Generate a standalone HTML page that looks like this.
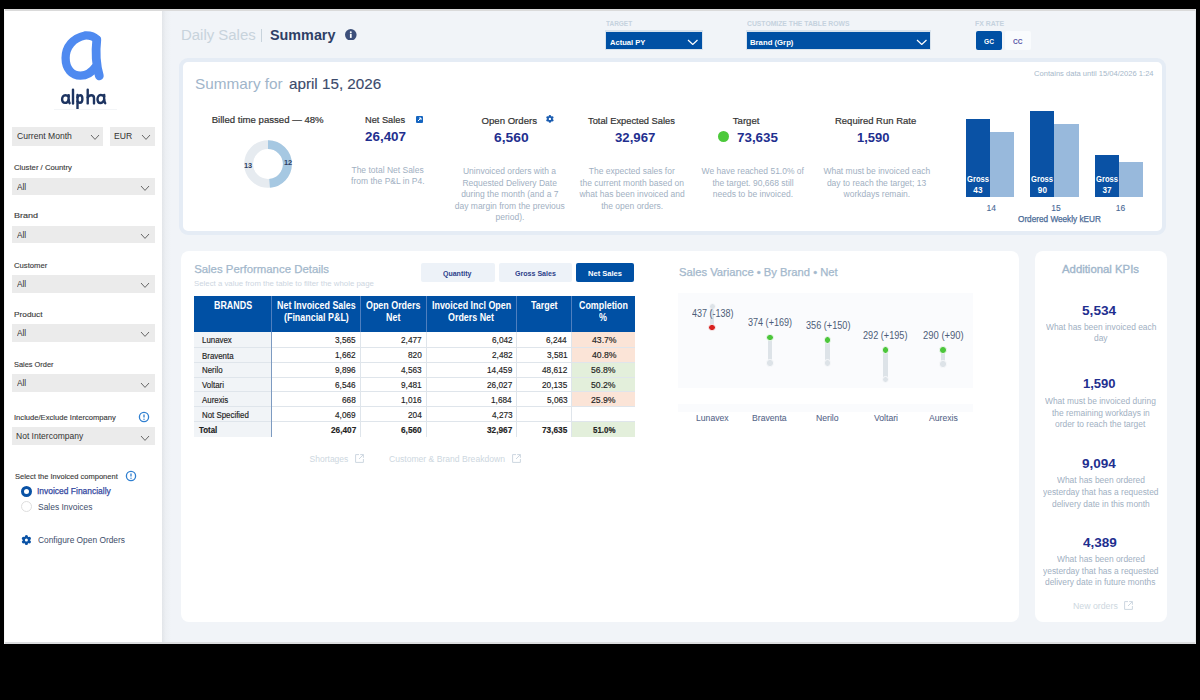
<!DOCTYPE html>
<html><head><meta charset="utf-8">
<style>
*{margin:0;padding:0;box-sizing:border-box}
html,body{width:1200px;height:700px;overflow:hidden;background:#000}
body{position:relative;font-family:"Liberation Sans",sans-serif}
.a{position:absolute;white-space:nowrap}
.t{transform-origin:0 0}
</style></head><body>
<div class="a" style="left:4.00px;top:9.00px;width:1192.00px;height:635.00px;background:#f1f4f8;"></div>
<div class="a" style="left:4.00px;top:9.00px;width:158.00px;height:635.00px;background:#ffffff;"></div>
<div class="a" style="left:162px;top:9px;width:9px;height:635px;background:linear-gradient(to right,#e2e5e9,#eceff3 40%,#f1f4f8)"></div>
<div class="a" style="left:4.00px;top:642.00px;width:1192.00px;height:2.00px;background:#dcdddf;"></div>
<div class="a" style="left:4.00px;top:9.00px;width:1192.00px;height:1.50px;background:#dadada;"></div>
<div class="a" style="left:1195.00px;top:9.00px;width:1.00px;height:635.00px;background:#e4e6e8;"></div>
<div class="a" style="left:4.00px;top:9.00px;width:1.00px;height:635.00px;background:#f6f6f6;"></div>
<svg class="a" style="left:0;top:0" width="170" height="120" viewBox="0 0 170 120">
 <path d="M96.8 39.5 C94 36.5 89.5 35.3 85 35.5 C73 38 65.6 47 65.6 58 C65.6 69 72 75.6 80.5 75.6 C87 75.6 92 72 95.5 67" fill="none" stroke="#4f8af0" stroke-width="8.3" stroke-linecap="round"/>
 <path d="M96.8 39.5 C95.6 50 95.5 63 99.3 75.8" fill="none" stroke="#4f8af0" stroke-width="8.8" stroke-linecap="round"/>
</svg>
<svg class="a" style="left:0;top:0" width="170" height="120" viewBox="0 0 170 120"><g fill="none" stroke="#1d3461" stroke-width="2.4" stroke-linecap="round" stroke-linejoin="round">
 <path d="M68.6 96.5 C67.8 95.5 66.6 95.2 65.3 95.2 C63.3 95.2 62.1 97.2 62.1 99.3 C62.1 101.4 63.3 102.9 65 102.9 C66.8 102.9 68.1 101.5 68.6 99.8"/>
 <path d="M68.7 95.2 C68.5 98 68.6 101.5 69.6 103.2"/>
 <path d="M73 89.8 V103.5"/>
 <path d="M77.5 95 V108.2"/>
 <path d="M77.5 97.3 C78.2 95.8 79.3 95.2 80.3 95.2 C81.8 95.2 82.4 97 82.4 98.9 C82.4 101 81.6 102.8 79.9 102.8 C78.8 102.8 77.9 102.2 77.5 101.3"/>
 <path d="M87.7 89.8 V103.4"/>
 <path d="M87.7 97.5 C88.4 95.8 89.8 95.2 91.3 95.2 C93.2 95.2 94 96.4 94 98 V103.4"/>
 <path d="M104.1 96.5 C103.3 95.4 102 95 100.7 95 C98.7 95 97.5 97.1 97.5 99.2 C97.5 101.4 98.7 103 100.4 103 C102.2 103 103.5 101.5 104.1 99.8"/>
 <path d="M104.2 95 C104 98 104.1 101.5 105.2 103.2"/>
</g></svg>
<div class="a" style="left:53.50px;top:109.30px;width:63.80px;height:1.00px;background:#f3f5f7;"></div>
<div class="a" style="left:12.20px;top:126.70px;width:91.10px;height:18.90px;background:#ebebeb;"></div>
<div class="a t" style="left:16.67px;top:130.38px;font-size:9px;line-height:13px;color:#333;font-weight:normal;transform:scaleX(0.9536);">Current Month</div>
<svg class="a" style="left:89.60px;top:133.80px" width="10.00" height="6.40"><path d="M1 1 L5.00 5.40 L9.00 1" fill="none" stroke="#666" stroke-width="1"/></svg>
<div class="a" style="left:110.00px;top:126.70px;width:45.20px;height:18.90px;background:#ebebeb;"></div>
<div class="a t" style="left:114.31px;top:130.38px;font-size:9px;line-height:13px;color:#333;font-weight:normal;transform:scaleX(0.9540);">EUR</div>
<svg class="a" style="left:140.80px;top:133.80px" width="10.00" height="6.40"><path d="M1 1 L5.00 5.40 L9.00 1" fill="none" stroke="#666" stroke-width="1"/></svg>
<div class="a t" style="left:14.01px;top:162.81px;font-size:7.2px;line-height:10px;color:#3a3a3a;font-weight:normal;transform:scaleX(1.0738);-webkit-text-stroke:0.12px #3a3a3a;">Cluster / Country</div>
<div class="a" style="left:12.20px;top:177.70px;width:143.00px;height:17.80px;background:#ebebeb;"></div>
<div class="a t" style="left:17.10px;top:180.65px;font-size:8.8px;line-height:12px;color:#333;font-weight:normal;transform:scaleX(0.9416);">All</div>
<svg class="a" style="left:140.20px;top:185.10px" width="10.00" height="6.40"><path d="M1 1 L5.00 5.40 L9.00 1" fill="none" stroke="#666" stroke-width="1"/></svg>
<div class="a t" style="left:13.68px;top:210.61px;font-size:7.2px;line-height:10px;color:#3a3a3a;font-weight:normal;transform:scaleX(1.2566);-webkit-text-stroke:0.12px #3a3a3a;">Brand</div>
<div class="a" style="left:12.20px;top:225.60px;width:143.00px;height:17.80px;background:#ebebeb;"></div>
<div class="a t" style="left:17.10px;top:228.55px;font-size:8.8px;line-height:12px;color:#333;font-weight:normal;transform:scaleX(0.9416);">All</div>
<svg class="a" style="left:140.20px;top:233.00px" width="10.00" height="6.40"><path d="M1 1 L5.00 5.40 L9.00 1" fill="none" stroke="#666" stroke-width="1"/></svg>
<div class="a t" style="left:14.02px;top:260.51px;font-size:7.2px;line-height:10px;color:#3a3a3a;font-weight:normal;transform:scaleX(1.0669);-webkit-text-stroke:0.12px #3a3a3a;">Customer</div>
<div class="a" style="left:12.20px;top:274.90px;width:143.00px;height:17.80px;background:#ebebeb;"></div>
<div class="a t" style="left:17.10px;top:277.85px;font-size:8.8px;line-height:12px;color:#333;font-weight:normal;transform:scaleX(0.9416);">All</div>
<svg class="a" style="left:140.20px;top:282.30px" width="10.00" height="6.40"><path d="M1 1 L5.00 5.40 L9.00 1" fill="none" stroke="#666" stroke-width="1"/></svg>
<div class="a t" style="left:13.74px;top:309.61px;font-size:7.2px;line-height:10px;color:#3a3a3a;font-weight:normal;transform:scaleX(1.1533);-webkit-text-stroke:0.12px #3a3a3a;">Product</div>
<div class="a" style="left:12.20px;top:323.90px;width:143.00px;height:17.80px;background:#ebebeb;"></div>
<div class="a t" style="left:17.10px;top:326.85px;font-size:8.8px;line-height:12px;color:#333;font-weight:normal;transform:scaleX(0.9416);">All</div>
<svg class="a" style="left:140.20px;top:331.30px" width="10.00" height="6.40"><path d="M1 1 L5.00 5.40 L9.00 1" fill="none" stroke="#666" stroke-width="1"/></svg>
<div class="a t" style="left:14.03px;top:359.81px;font-size:7.2px;line-height:10px;color:#3a3a3a;font-weight:normal;transform:scaleX(1.0305);-webkit-text-stroke:0.12px #3a3a3a;">Sales Order</div>
<div class="a" style="left:12.20px;top:374.30px;width:143.00px;height:17.80px;background:#ebebeb;"></div>
<div class="a t" style="left:17.10px;top:377.25px;font-size:8.8px;line-height:12px;color:#333;font-weight:normal;transform:scaleX(0.9416);">All</div>
<svg class="a" style="left:140.20px;top:381.70px" width="10.00" height="6.40"><path d="M1 1 L5.00 5.40 L9.00 1" fill="none" stroke="#666" stroke-width="1"/></svg>
<div class="a t" style="left:13.71px;top:412.66px;font-size:7.2px;line-height:10px;color:#3a3a3a;font-weight:normal;transform:scaleX(1.0576);-webkit-text-stroke:0.12px #3a3a3a;">Include/Exclude Intercompany</div>
<div class="a" style="left:12.20px;top:427.25px;width:143.00px;height:17.80px;background:#ebebeb;"></div>
<div class="a t" style="left:16.42px;top:430.20px;font-size:8.8px;line-height:12px;color:#333;font-weight:normal;transform:scaleX(0.9676);">Not Intercompany</div>
<svg class="a" style="left:140.20px;top:434.65px" width="10.00" height="6.40"><path d="M1 1 L5.00 5.40 L9.00 1" fill="none" stroke="#666" stroke-width="1"/></svg>
<svg class="a" style="left:137.60px;top:411.10px" width="12" height="12" viewBox="0 0 12 12"><circle cx="6" cy="6" r="4.6" fill="none" stroke="#2f7fd0" stroke-width="1.3"/><path d="M6 3.4 V6.6" stroke="#2f7fd0" stroke-width="1.3"/><circle cx="6" cy="8.3" r="0.7" fill="#2f7fd0"/></svg>
<div class="a t" style="left:15.12px;top:471.91px;font-size:7.2px;line-height:10px;color:#3a3a3a;font-weight:normal;transform:scaleX(1.0452);-webkit-text-stroke:0.12px #3a3a3a;">Select the Invoiced component</div>
<svg class="a" style="left:124.80px;top:470.20px" width="12" height="12" viewBox="0 0 12 12"><circle cx="6" cy="6" r="4.6" fill="none" stroke="#2f7fd0" stroke-width="1.3"/><path d="M6 3.4 V6.6" stroke="#2f7fd0" stroke-width="1.3"/><circle cx="6" cy="8.3" r="0.7" fill="#2f7fd0"/></svg>
<div class="a" style="left:21.2px;top:485.6px;width:11px;height:11px;border-radius:50%;border:3.2px solid #0a52a5;background:#fff"></div>
<div class="a t" style="left:37.44px;top:485.25px;font-size:8.8px;line-height:12px;color:#3347a0;font-weight:normal;transform:scaleX(0.9614);-webkit-text-stroke:0.25px #3347a0;">Invoiced Financially</div>
<div class="a" style="left:21.2px;top:500.8px;width:11px;height:11px;border-radius:50%;border:1px solid #dedede;background:#fff"></div>
<div class="a t" style="left:37.78px;top:500.65px;font-size:8.8px;line-height:12px;color:#3d4d6a;font-weight:normal;transform:scaleX(0.9595);">Sales Invoices</div>
<svg class="a" style="left:0;top:0" width="1200" height="700"><circle cx="26.4" cy="540.1" r="3.50" fill="#0a52a5"/><circle cx="26.40" cy="536.70" r="1.60" fill="#0a52a5"/><circle cx="29.34" cy="538.40" r="1.60" fill="#0a52a5"/><circle cx="29.34" cy="541.80" r="1.60" fill="#0a52a5"/><circle cx="26.40" cy="543.50" r="1.60" fill="#0a52a5"/><circle cx="23.46" cy="541.80" r="1.60" fill="#0a52a5"/><circle cx="23.46" cy="538.40" r="1.60" fill="#0a52a5"/><circle cx="26.4" cy="540.1" r="1.50" fill="#fff"/></svg>
<div class="a t" style="left:38.38px;top:534.45px;font-size:8.5px;line-height:12px;color:#3d4d6a;font-weight:normal;transform:scaleX(0.9846);">Configure Open Orders</div>
<div class="a t" style="left:180.90px;top:24.85px;font-size:14px;line-height:20px;color:#c8d3dc;font-weight:normal;transform:scaleX(1.0670);">Daily Sales</div>
<div class="a" style="left:261.00px;top:28.70px;width:1.20px;height:13.50px;background:#c8d3dc;"></div>
<div class="a t" style="left:269.57px;top:24.85px;font-size:14px;line-height:20px;color:#2e3f66;font-weight:bold;transform:scaleX(1.0256);">Summary</div>
<svg class="a" style="left:345px;top:28.9px" width="11.6" height="11.6" viewBox="0 0 12 12"><circle cx="6" cy="6" r="6" fill="#3c4f7a"/><rect x="5.1" y="5" width="1.8" height="4.2" fill="#fff"/><circle cx="6" cy="3.3" r="1" fill="#fff"/></svg>
<div class="a t" style="left:606.44px;top:18.67px;font-size:7.3px;line-height:10px;color:#c5d2de;font-weight:bold;transform:scaleX(0.8860);">TARGET</div>
<div class="a" style="left:604.80px;top:30.00px;width:98.20px;height:20.20px;background:#d8e2ec;"></div>
<div class="a" style="left:605.80px;top:31.60px;width:96.20px;height:17.90px;background:#0050a4;"></div>
<div class="a t" style="left:609.77px;top:36.63px;font-size:8px;line-height:11px;color:#ffffff;font-weight:bold;transform:scaleX(0.9470);">Actual PY</div>
<svg class="a" style="left:686.95px;top:38.55px" width="11.50" height="6.50"><path d="M1 1 L5.75 5.50 L10.50 1" fill="none" stroke="#ffffff" stroke-width="1.2"/></svg>
<div class="a t" style="left:746.73px;top:18.67px;font-size:7.3px;line-height:10px;color:#c5d2de;font-weight:bold;transform:scaleX(0.9315);">CUSTOMIZE THE TABLE ROWS</div>
<div class="a" style="left:745.50px;top:30.00px;width:185.80px;height:20.20px;background:#d8e2ec;"></div>
<div class="a" style="left:746.50px;top:31.60px;width:183.80px;height:17.90px;background:#0050a4;"></div>
<div class="a t" style="left:749.96px;top:36.63px;font-size:8px;line-height:11px;color:#ffffff;font-weight:bold;transform:scaleX(0.9677);">Brand (Grp)</div>
<svg class="a" style="left:916.15px;top:38.55px" width="11.50" height="6.50"><path d="M1 1 L5.75 5.50 L10.50 1" fill="none" stroke="#ffffff" stroke-width="1.2"/></svg>
<div class="a t" style="left:975.32px;top:18.77px;font-size:7.3px;line-height:10px;color:#c5d2de;font-weight:bold;transform:scaleX(0.9489);">FX RATE</div>
<div class="a" style="left:975.80px;top:31.20px;width:25.95px;height:18.40px;background:#0050a4;border-radius:2px;"></div>
<div class="a t" style="left:983.53px;top:36.33px;font-size:7.7px;line-height:11px;color:#ffffff;font-weight:bold;transform:scaleX(0.8628);">GC</div>
<div class="a" style="left:1005.00px;top:31.20px;width:26.30px;height:18.40px;background:#f9fbfd;border-radius:2px;"></div>
<div class="a t" style="left:1013.13px;top:36.33px;font-size:7.7px;line-height:11px;color:#5a5aa8;font-weight:bold;transform:scaleX(0.8626);">CC</div>
<div class="a" style="left:179.3px;top:57.9px;width:986.5px;height:177.4px;border:4.5px solid #e5ecf5;border-radius:9px;background:#fff"></div>
<div class="a t" style="left:195.03px;top:73.00px;font-size:15px;line-height:21px;color:#9fb5ca;font-weight:normal;transform:scaleX(1.0212);">Summary for</div>
<div class="a t" style="left:289.39px;top:73.00px;font-size:15px;line-height:21px;color:#3b4a6b;font-weight:normal;transform:scaleX(1.0140);-webkit-text-stroke:0.15px #3b4a6b;">april 15, 2026</div>
<div class="a t" style="left:1034.22px;top:69.44px;font-size:7.4px;line-height:10px;color:#a6b8ca;font-weight:normal;transform:scaleX(1.0245);">Contains data until 15/04/2026 1:24</div>
<div class="a t" style="left:211.63px;top:112.57px;font-size:9.6px;line-height:13px;color:#333333;font-weight:normal;-webkit-text-stroke:0.2px #333;">Billed time passed — 48%</div>
<svg class="a" style="left:238px;top:133.6px" width="60" height="60" viewBox="0 0 60 60">
 <circle cx="30" cy="30" r="19.4" fill="none" stroke="#e6ebf0" stroke-width="8.9"/>
 <circle cx="30" cy="30" r="19.4" fill="none" stroke="#a6c8e2" stroke-width="8.9" stroke-dasharray="58.9 200" transform="rotate(-90 30 30)"/>
</svg>
<div class="a t" style="left:244.26px;top:160.80px;font-size:7.5px;line-height:10px;color:#2d3e63;font-weight:bold;transform:scaleX(0.9804);">13</div>
<div class="a t" style="left:283.56px;top:158.30px;font-size:7.5px;line-height:10px;color:#2d3e63;font-weight:bold;transform:scaleX(0.9804);">12</div>
<div class="a t" style="left:365.26px;top:112.57px;font-size:9.6px;line-height:13px;color:#333333;font-weight:normal;transform:scaleX(0.9627);-webkit-text-stroke:0.2px #333;">Net Sales</div>
<svg class="a" style="left:415.6px;top:116.2px" width="7" height="7" viewBox="0 0 7 7"><rect width="7" height="7" rx="1" fill="#1565c0"/><path d="M2 5 L5 2 M3 2 H5 V4" stroke="#fff" stroke-width="1" fill="none"/></svg>
<div class="a t" style="left:364.60px;top:127.50px;font-size:13px;line-height:18px;color:#1f2f8f;font-weight:bold;transform:scaleX(1.0325);">26,407</div>
<div class="a t" style="left:351.46px;top:163.85px;font-size:8.5px;line-height:12px;color:#9fb0c2;font-weight:normal;">The total Net Sales</div>
<div class="a t" style="left:351.12px;top:175.15px;font-size:8.5px;line-height:12px;color:#9fb0c2;font-weight:normal;">from the P&amp;L in P4.</div>
<div class="a t" style="left:481.52px;top:113.57px;font-size:9.6px;line-height:13px;color:#333333;font-weight:normal;-webkit-text-stroke:0.2px #333;">Open Orders</div>
<svg class="a" style="left:0;top:0" width="1200" height="700"><circle cx="549.9" cy="118.9" r="2.73" fill="#1a5cb0"/><circle cx="549.90" cy="116.25" r="1.25" fill="#1a5cb0"/><circle cx="552.20" cy="117.57" r="1.25" fill="#1a5cb0"/><circle cx="552.20" cy="120.23" r="1.25" fill="#1a5cb0"/><circle cx="549.90" cy="121.55" r="1.25" fill="#1a5cb0"/><circle cx="547.60" cy="120.23" r="1.25" fill="#1a5cb0"/><circle cx="547.60" cy="117.57" r="1.25" fill="#1a5cb0"/><circle cx="549.9" cy="118.9" r="1.17" fill="#fff"/></svg>
<div class="a t" style="left:493.85px;top:128.50px;font-size:13px;line-height:18px;color:#1f2f8f;font-weight:bold;transform:scaleX(1.0636);">6,560</div>
<div class="a t" style="left:462.92px;top:165.45px;font-size:8.5px;line-height:12px;color:#9fb0c2;font-weight:normal;">Uninvoiced orders with a</div>
<div class="a t" style="left:462.41px;top:176.95px;font-size:8.5px;line-height:12px;color:#9fb0c2;font-weight:normal;">Requested Delivery Date</div>
<div class="a t" style="left:461.14px;top:188.45px;font-size:8.5px;line-height:12px;color:#9fb0c2;font-weight:normal;">during the month (and a 7</div>
<div class="a t" style="left:454.76px;top:199.95px;font-size:8.5px;line-height:12px;color:#9fb0c2;font-weight:normal;">day margin from the previous</div>
<div class="a t" style="left:495.52px;top:211.45px;font-size:8.5px;line-height:12px;color:#9fb0c2;font-weight:normal;">period).</div>
<div class="a t" style="left:588.41px;top:113.57px;font-size:9.6px;line-height:13px;color:#333333;font-weight:normal;transform:scaleX(0.9698);-webkit-text-stroke:0.2px #333;">Total Expected Sales</div>
<div class="a t" style="left:614.74px;top:128.50px;font-size:13px;line-height:18px;color:#1f2f8f;font-weight:bold;transform:scaleX(1.0136);">32,967</div>
<div class="a t" style="left:588.79px;top:165.45px;font-size:8.5px;line-height:12px;color:#9fb0c2;font-weight:normal;">The expected sales for</div>
<div class="a t" style="left:580.08px;top:176.85px;font-size:8.5px;line-height:12px;color:#9fb0c2;font-weight:normal;">the current month based on</div>
<div class="a t" style="left:579.40px;top:188.25px;font-size:8.5px;line-height:12px;color:#9fb0c2;font-weight:normal;">what has been invoiced and</div>
<div class="a t" style="left:601.20px;top:199.65px;font-size:8.5px;line-height:12px;color:#9fb0c2;font-weight:normal;">the open orders.</div>
<div class="a t" style="left:732.81px;top:113.57px;font-size:9.6px;line-height:13px;color:#333333;font-weight:normal;-webkit-text-stroke:0.2px #333;">Target</div>
<div class="a" style="left:717.6px;top:130.9px;width:11px;height:11px;border-radius:50%;background:#4cc93b"></div>
<div class="a t" style="left:737.46px;top:128.50px;font-size:13px;line-height:18px;color:#1f2f8f;font-weight:bold;transform:scaleX(1.0291);">73,635</div>
<div class="a t" style="left:701.59px;top:165.45px;font-size:8.5px;line-height:12px;color:#9fb0c2;font-weight:normal;">We have reached 51.0% of</div>
<div class="a t" style="left:712.38px;top:176.85px;font-size:8.5px;line-height:12px;color:#9fb0c2;font-weight:normal;">the target. 90,668 still</div>
<div class="a t" style="left:712.72px;top:188.25px;font-size:8.5px;line-height:12px;color:#9fb0c2;font-weight:normal;">needs to be invoiced.</div>
<div class="a t" style="left:835.24px;top:113.57px;font-size:9.6px;line-height:13px;color:#333333;font-weight:normal;transform:scaleX(0.9885);-webkit-text-stroke:0.2px #333;">Required Run Rate</div>
<div class="a t" style="left:856.62px;top:128.50px;font-size:13px;line-height:18px;color:#1f2f8f;font-weight:bold;transform:scaleX(0.9959);">1,590</div>
<div class="a t" style="left:823.38px;top:165.25px;font-size:8.5px;line-height:12px;color:#9fb0c2;font-weight:normal;">What must be invoiced each</div>
<div class="a t" style="left:826.90px;top:176.75px;font-size:8.5px;line-height:12px;color:#9fb0c2;font-weight:normal;">day to reach the target; 13</div>
<div class="a t" style="left:843.56px;top:188.25px;font-size:8.5px;line-height:12px;color:#9fb0c2;font-weight:normal;">workdays remain.</div>
<div class="a" style="left:965.50px;top:118.60px;width:24.30px;height:78.30px;background:#0a52a5;"></div>
<div class="a" style="left:989.80px;top:132.00px;width:24.50px;height:64.90px;background:#98b9dc;"></div>
<div class="a t" style="left:966.58px;top:174.36px;font-size:8.2px;line-height:11px;color:#ffffff;font-weight:bold;transform:scaleX(0.9300);">Gross</div>
<div class="a t" style="left:973.33px;top:185.06px;font-size:8.2px;line-height:11px;color:#ffffff;font-weight:bold;">43</div>
<div class="a t" style="left:986.53px;top:201.85px;font-size:8.5px;line-height:12px;color:#4a6a96;font-weight:normal;-webkit-text-stroke:0.1px #4a6a96;">14</div>
<div class="a" style="left:1030.10px;top:110.90px;width:24.30px;height:86.00px;background:#0a52a5;"></div>
<div class="a" style="left:1054.40px;top:123.50px;width:24.50px;height:73.40px;background:#98b9dc;"></div>
<div class="a t" style="left:1031.18px;top:174.36px;font-size:8.2px;line-height:11px;color:#ffffff;font-weight:bold;transform:scaleX(0.9300);">Gross</div>
<div class="a t" style="left:1037.85px;top:185.06px;font-size:8.2px;line-height:11px;color:#ffffff;font-weight:bold;">90</div>
<div class="a t" style="left:1051.17px;top:201.85px;font-size:8.5px;line-height:12px;color:#4a6a96;font-weight:normal;-webkit-text-stroke:0.1px #4a6a96;">15</div>
<div class="a" style="left:1094.60px;top:154.60px;width:24.30px;height:42.30px;background:#0a52a5;"></div>
<div class="a" style="left:1118.90px;top:162.10px;width:24.50px;height:34.80px;background:#98b9dc;"></div>
<div class="a t" style="left:1095.68px;top:174.36px;font-size:8.2px;line-height:11px;color:#ffffff;font-weight:bold;transform:scaleX(0.9300);">Gross</div>
<div class="a t" style="left:1102.43px;top:185.06px;font-size:8.2px;line-height:11px;color:#ffffff;font-weight:bold;">37</div>
<div class="a t" style="left:1115.71px;top:201.85px;font-size:8.5px;line-height:12px;color:#4a6a96;font-weight:normal;-webkit-text-stroke:0.1px #4a6a96;">16</div>
<div class="a t" style="left:1018.49px;top:213.35px;font-size:8.5px;line-height:12px;color:#4a6a96;font-weight:normal;transform:scaleX(0.9657);-webkit-text-stroke:0.25px #4a6a96;">Ordered Weekly kEUR</div>
<div class="a" style="left:181px;top:251.4px;width:837.6px;height:370.6px;border-radius:8px;background:#fff"></div>
<div class="a" style="left:1034.8px;top:251.4px;width:132px;height:370.6px;border-radius:8px;background:#fff"></div>
<div class="a t" style="left:194.13px;top:261.45px;font-size:11.4px;line-height:16px;color:#a3b8cc;font-weight:normal;-webkit-text-stroke:0.25px #a3b8cc;">Sales Performance Details</div>
<div class="a t" style="left:194.31px;top:278.80px;font-size:7.5px;line-height:10px;color:#cdd6df;font-weight:normal;transform:scaleX(1.0419);">Select a value from the table to filter the whole page</div>
<div class="a" style="left:420.60px;top:263.25px;width:74.70px;height:18.75px;background:#edf2f8;border-radius:2px;"></div>
<div class="a t" style="left:443.42px;top:268.40px;font-size:7.8px;line-height:11px;color:#2c3f8a;font-weight:bold;transform:scaleX(0.8984);">Quantity</div>
<div class="a" style="left:498.80px;top:263.25px;width:73.70px;height:18.75px;background:#edf2f8;border-radius:2px;"></div>
<div class="a t" style="left:515.02px;top:268.40px;font-size:7.8px;line-height:11px;color:#2c3f8a;font-weight:bold;transform:scaleX(0.9064);">Gross Sales</div>
<div class="a" style="left:575.90px;top:263.25px;width:58.50px;height:18.75px;background:#0050a4;border-radius:2px;"></div>
<div class="a t" style="left:587.87px;top:268.40px;font-size:7.8px;line-height:11px;color:#ffffff;font-weight:bold;transform:scaleX(0.9674);">Net Sales</div>
<div class="a" style="left:194.00px;top:296.00px;width:440.90px;height:35.60px;background:#0050a4;"></div>
<div class="a" style="left:271.10px;top:296.00px;width:1.00px;height:35.60px;background:#4f7fbf;"></div>
<div class="a" style="left:359.90px;top:296.00px;width:1.00px;height:35.60px;background:#4f7fbf;"></div>
<div class="a" style="left:425.70px;top:296.00px;width:1.00px;height:35.60px;background:#4f7fbf;"></div>
<div class="a" style="left:516.10px;top:296.00px;width:1.00px;height:35.60px;background:#4f7fbf;"></div>
<div class="a" style="left:571.10px;top:296.00px;width:1.00px;height:35.60px;background:#4f7fbf;"></div>
<div class="a t" style="left:213.62px;top:298.94px;font-size:10px;line-height:14px;color:#ffffff;font-weight:bold;transform:scaleX(0.8900);">BRANDS</div>
<div class="a t" style="left:276.53px;top:298.94px;font-size:10px;line-height:14px;color:#ffffff;font-weight:bold;transform:scaleX(0.8900);">Net Invoiced Sales</div>
<div class="a t" style="left:283.65px;top:311.44px;font-size:10px;line-height:14px;color:#ffffff;font-weight:bold;transform:scaleX(0.8900);">(Financial P&amp;L)</div>
<div class="a t" style="left:366.07px;top:298.94px;font-size:10px;line-height:14px;color:#ffffff;font-weight:bold;transform:scaleX(0.8900);">Open Orders</div>
<div class="a t" style="left:385.87px;top:311.44px;font-size:10px;line-height:14px;color:#ffffff;font-weight:bold;transform:scaleX(0.8900);">Net</div>
<div class="a t" style="left:431.80px;top:298.94px;font-size:10px;line-height:14px;color:#ffffff;font-weight:bold;transform:scaleX(0.8900);">Invoiced Incl Open</div>
<div class="a t" style="left:448.26px;top:311.44px;font-size:10px;line-height:14px;color:#ffffff;font-weight:bold;transform:scaleX(0.8900);">Orders Net</div>
<div class="a t" style="left:530.84px;top:298.94px;font-size:10px;line-height:14px;color:#ffffff;font-weight:bold;transform:scaleX(0.8900);">Target</div>
<div class="a t" style="left:578.86px;top:298.94px;font-size:10px;line-height:14px;color:#ffffff;font-weight:bold;transform:scaleX(0.8900);">Completion</div>
<div class="a t" style="left:599.33px;top:311.44px;font-size:10px;line-height:14px;color:#ffffff;font-weight:bold;transform:scaleX(0.8900);">%</div>
<div class="a" style="left:194.00px;top:331.60px;width:77.60px;height:105.40px;background:#f1f4f7;"></div>
<div class="a" style="left:571.60px;top:331.60px;width:63.30px;height:15.90px;background:#fbe4d7;"></div>
<div class="a t" style="left:201.67px;top:334.17px;font-size:8.3px;line-height:12px;color:#222222;font-weight:normal;transform:scaleX(0.9500);-webkit-text-stroke:0.15px #222;">Lunavex</div>
<div class="a t" style="left:335.33px;top:334.10px;font-size:8.5px;line-height:12px;color:#222222;font-weight:normal;transform:scaleX(0.9700);-webkit-text-stroke:0.15px #222;">3,565</div>
<div class="a t" style="left:401.22px;top:334.10px;font-size:8.5px;line-height:12px;color:#222222;font-weight:normal;transform:scaleX(0.9700);-webkit-text-stroke:0.15px #222;">2,477</div>
<div class="a t" style="left:491.62px;top:334.10px;font-size:8.5px;line-height:12px;color:#222222;font-weight:normal;transform:scaleX(0.9700);-webkit-text-stroke:0.15px #222;">6,042</div>
<div class="a t" style="left:546.45px;top:334.10px;font-size:8.5px;line-height:12px;color:#222222;font-weight:normal;transform:scaleX(0.9700);-webkit-text-stroke:0.15px #222;">6,244</div>
<div class="a t" style="left:591.53px;top:334.10px;font-size:8.5px;line-height:12px;color:#222222;font-weight:normal;transform:scaleX(1.0200);-webkit-text-stroke:0.15px #222;">43.7%</div>
<div class="a" style="left:571.60px;top:347.50px;width:63.30px;height:14.80px;background:#fbe4d7;"></div>
<div class="a t" style="left:201.67px;top:349.52px;font-size:8.3px;line-height:12px;color:#222222;font-weight:normal;transform:scaleX(0.9500);-webkit-text-stroke:0.15px #222;">Braventa</div>
<div class="a t" style="left:335.42px;top:349.45px;font-size:8.5px;line-height:12px;color:#222222;font-weight:normal;transform:scaleX(0.9700);-webkit-text-stroke:0.15px #222;">1,662</div>
<div class="a t" style="left:408.06px;top:349.45px;font-size:8.5px;line-height:12px;color:#222222;font-weight:normal;transform:scaleX(0.9700);-webkit-text-stroke:0.15px #222;">820</div>
<div class="a t" style="left:491.62px;top:349.45px;font-size:8.5px;line-height:12px;color:#222222;font-weight:normal;transform:scaleX(0.9700);-webkit-text-stroke:0.15px #222;">2,482</div>
<div class="a t" style="left:546.62px;top:349.45px;font-size:8.5px;line-height:12px;color:#222222;font-weight:normal;transform:scaleX(0.9700);-webkit-text-stroke:0.15px #222;">3,581</div>
<div class="a t" style="left:591.53px;top:349.45px;font-size:8.5px;line-height:12px;color:#222222;font-weight:normal;transform:scaleX(1.0200);-webkit-text-stroke:0.15px #222;">40.8%</div>
<div class="a" style="left:571.60px;top:362.30px;width:63.30px;height:14.80px;background:#e3efdb;"></div>
<div class="a t" style="left:201.67px;top:364.32px;font-size:8.3px;line-height:12px;color:#222222;font-weight:normal;transform:scaleX(0.9500);-webkit-text-stroke:0.15px #222;">Nerilo</div>
<div class="a t" style="left:335.42px;top:364.25px;font-size:8.5px;line-height:12px;color:#222222;font-weight:normal;transform:scaleX(0.9700);-webkit-text-stroke:0.15px #222;">9,896</div>
<div class="a t" style="left:401.22px;top:364.25px;font-size:8.5px;line-height:12px;color:#222222;font-weight:normal;transform:scaleX(0.9700);-webkit-text-stroke:0.15px #222;">4,563</div>
<div class="a t" style="left:487.08px;top:364.25px;font-size:8.5px;line-height:12px;color:#222222;font-weight:normal;transform:scaleX(0.9700);-webkit-text-stroke:0.15px #222;">14,459</div>
<div class="a t" style="left:542.08px;top:364.25px;font-size:8.5px;line-height:12px;color:#222222;font-weight:normal;transform:scaleX(0.9700);-webkit-text-stroke:0.15px #222;">48,612</div>
<div class="a t" style="left:591.44px;top:364.25px;font-size:8.5px;line-height:12px;color:#222222;font-weight:normal;transform:scaleX(1.0200);-webkit-text-stroke:0.15px #222;">56.8%</div>
<div class="a" style="left:571.60px;top:377.10px;width:63.30px;height:14.80px;background:#e3efdb;"></div>
<div class="a t" style="left:202.22px;top:379.12px;font-size:8.3px;line-height:12px;color:#222222;font-weight:normal;transform:scaleX(0.9500);-webkit-text-stroke:0.15px #222;">Voltari</div>
<div class="a t" style="left:335.42px;top:379.05px;font-size:8.5px;line-height:12px;color:#222222;font-weight:normal;transform:scaleX(0.9700);-webkit-text-stroke:0.15px #222;">6,546</div>
<div class="a t" style="left:401.22px;top:379.05px;font-size:8.5px;line-height:12px;color:#222222;font-weight:normal;transform:scaleX(0.9700);-webkit-text-stroke:0.15px #222;">9,481</div>
<div class="a t" style="left:487.08px;top:379.05px;font-size:8.5px;line-height:12px;color:#222222;font-weight:normal;transform:scaleX(0.9700);-webkit-text-stroke:0.15px #222;">26,027</div>
<div class="a t" style="left:542.00px;top:379.05px;font-size:8.5px;line-height:12px;color:#222222;font-weight:normal;transform:scaleX(0.9700);-webkit-text-stroke:0.15px #222;">20,135</div>
<div class="a t" style="left:591.44px;top:379.05px;font-size:8.5px;line-height:12px;color:#222222;font-weight:normal;transform:scaleX(1.0200);-webkit-text-stroke:0.15px #222;">50.2%</div>
<div class="a" style="left:571.60px;top:391.90px;width:63.30px;height:14.80px;background:#fbe4d7;"></div>
<div class="a t" style="left:202.30px;top:393.92px;font-size:8.3px;line-height:12px;color:#222222;font-weight:normal;transform:scaleX(0.9500);-webkit-text-stroke:0.15px #222;">Aurexis</div>
<div class="a t" style="left:342.34px;top:393.85px;font-size:8.5px;line-height:12px;color:#222222;font-weight:normal;transform:scaleX(0.9700);-webkit-text-stroke:0.15px #222;">668</div>
<div class="a t" style="left:401.22px;top:393.85px;font-size:8.5px;line-height:12px;color:#222222;font-weight:normal;transform:scaleX(0.9700);-webkit-text-stroke:0.15px #222;">1,016</div>
<div class="a t" style="left:491.45px;top:393.85px;font-size:8.5px;line-height:12px;color:#222222;font-weight:normal;transform:scaleX(0.9700);-webkit-text-stroke:0.15px #222;">1,684</div>
<div class="a t" style="left:546.62px;top:393.85px;font-size:8.5px;line-height:12px;color:#222222;font-weight:normal;transform:scaleX(0.9700);-webkit-text-stroke:0.15px #222;">5,063</div>
<div class="a t" style="left:591.40px;top:393.85px;font-size:8.5px;line-height:12px;color:#222222;font-weight:normal;transform:scaleX(1.0200);-webkit-text-stroke:0.15px #222;">25.9%</div>
<div class="a" style="left:571.60px;top:406.70px;width:63.30px;height:14.80px;background:#ffffff;"></div>
<div class="a t" style="left:201.67px;top:408.72px;font-size:8.3px;line-height:12px;color:#222222;font-weight:normal;transform:scaleX(0.9500);-webkit-text-stroke:0.15px #222;">Not Specified</div>
<div class="a t" style="left:335.42px;top:408.65px;font-size:8.5px;line-height:12px;color:#222222;font-weight:normal;transform:scaleX(0.9700);-webkit-text-stroke:0.15px #222;">4,069</div>
<div class="a t" style="left:407.98px;top:408.65px;font-size:8.5px;line-height:12px;color:#222222;font-weight:normal;transform:scaleX(0.9700);-webkit-text-stroke:0.15px #222;">204</div>
<div class="a t" style="left:491.62px;top:408.65px;font-size:8.5px;line-height:12px;color:#222222;font-weight:normal;transform:scaleX(0.9700);-webkit-text-stroke:0.15px #222;">4,273</div>
<div class="a" style="left:571.60px;top:421.50px;width:63.30px;height:15.50px;background:#e3efdb;"></div>
<div class="a t" style="left:198.52px;top:423.87px;font-size:8.3px;line-height:12px;color:#222222;font-weight:bold;transform:scaleX(0.9500);-webkit-text-stroke:0.15px #222;">Total</div>
<div class="a t" style="left:330.88px;top:423.80px;font-size:8.5px;line-height:12px;color:#222222;font-weight:bold;transform:scaleX(0.9700);-webkit-text-stroke:0.15px #222;">26,407</div>
<div class="a t" style="left:401.13px;top:423.80px;font-size:8.5px;line-height:12px;color:#222222;font-weight:bold;transform:scaleX(0.9700);-webkit-text-stroke:0.15px #222;">6,560</div>
<div class="a t" style="left:487.08px;top:423.80px;font-size:8.5px;line-height:12px;color:#222222;font-weight:bold;transform:scaleX(0.9700);-webkit-text-stroke:0.15px #222;">32,967</div>
<div class="a t" style="left:541.92px;top:423.80px;font-size:8.5px;line-height:12px;color:#222222;font-weight:bold;transform:scaleX(0.9700);-webkit-text-stroke:0.15px #222;">73,635</div>
<div class="a t" style="left:592.52px;top:423.80px;font-size:8.5px;line-height:12px;color:#222222;font-weight:bold;transform:scaleX(0.9300);-webkit-text-stroke:0.15px #222;">51.0%</div>
<div class="a" style="left:194.00px;top:347.00px;width:440.90px;height:1.00px;background:#dfe5eb;"></div>
<div class="a" style="left:194.00px;top:361.80px;width:440.90px;height:1.00px;background:#dfe5eb;"></div>
<div class="a" style="left:194.00px;top:376.60px;width:440.90px;height:1.00px;background:#dfe5eb;"></div>
<div class="a" style="left:194.00px;top:391.40px;width:440.90px;height:1.00px;background:#dfe5eb;"></div>
<div class="a" style="left:194.00px;top:406.20px;width:440.90px;height:1.00px;background:#dfe5eb;"></div>
<div class="a" style="left:194.00px;top:421.00px;width:440.90px;height:1.00px;background:#dfe5eb;"></div>
<div class="a" style="left:359.90px;top:331.60px;width:1.00px;height:105.40px;background:#dfe5eb;"></div>
<div class="a" style="left:425.70px;top:331.60px;width:1.00px;height:105.40px;background:#dfe5eb;"></div>
<div class="a" style="left:516.10px;top:331.60px;width:1.00px;height:105.40px;background:#dfe5eb;"></div>
<div class="a" style="left:571.10px;top:331.60px;width:1.00px;height:105.40px;background:#dfe5eb;"></div>
<div class="a" style="left:270.80px;top:331.60px;width:1.60px;height:105.40px;background:#7d9bc1;"></div>
<div class="a t" style="left:309.58px;top:452.75px;font-size:8.5px;line-height:12px;color:#cdd7e0;font-weight:normal;">Shortages</div>
<svg class="a" style="left:355.40px;top:453.60px" width="9" height="9" viewBox="0 0 9 9"><path d="M4 0.6 H0.6 V8.4 H8.4 V5" fill="none" stroke="#cdd7e0" stroke-width="1"/><path d="M4 5 L8.4 0.6 M5.2 0.6 H8.4 V3.8" fill="none" stroke="#cdd7e0" stroke-width="1"/></svg>
<div class="a t" style="left:389.27px;top:452.75px;font-size:8.5px;line-height:12px;color:#cdd7e0;font-weight:normal;transform:scaleX(1.0104);">Customer &amp; Brand Breakdown</div>
<svg class="a" style="left:511.60px;top:453.60px" width="9" height="9" viewBox="0 0 9 9"><path d="M4 0.6 H0.6 V8.4 H8.4 V5" fill="none" stroke="#cdd7e0" stroke-width="1"/><path d="M4 5 L8.4 0.6 M5.2 0.6 H8.4 V3.8" fill="none" stroke="#cdd7e0" stroke-width="1"/></svg>
<div class="a t" style="left:679.44px;top:265.09px;font-size:11px;line-height:15px;color:#a3b8cc;font-weight:normal;transform:scaleX(1.0209);-webkit-text-stroke:0.25px #a3b8cc;">Sales Variance • By Brand • Net</div>
<div class="a" style="left:677.90px;top:292.90px;width:295.10px;height:95.30px;background:#fafbfd;"></div>
<div class="a" style="left:677.90px;top:403.50px;width:295.10px;height:8.00px;background:#fafbfd;"></div>
<div class="a" style="left:709.90px;top:306.20px;width:4.60px;height:21.50px;background:#dde3e8;"></div>
<div class="a" style="left:708.60px;top:302.60px;width:7.2px;height:7.2px;border-radius:50%;background:#dde3e8;border:0.8px solid #f9fafc"></div>
<div class="a t" style="left:691.82px;top:306.94px;font-size:10px;line-height:14px;color:#4d5d78;font-weight:normal;transform:scaleX(0.9007);">437 (-138)</div>
<div class="a" style="left:708.40px;top:323.90px;width:7.6px;height:7.6px;border-radius:50%;background:#d8201e;border:0.8px solid #f9fafc"></div>
<div class="a t" style="left:695.56px;top:411.41px;font-size:9.5px;line-height:13px;color:#56668a;font-weight:normal;transform:scaleX(0.9100);-webkit-text-stroke:0.08px #56668a;">Lunavex</div>
<div class="a" style="left:767.70px;top:337.30px;width:4.60px;height:25.70px;background:#dde3e8;"></div>
<div class="a" style="left:766.40px;top:359.40px;width:7.2px;height:7.2px;border-radius:50%;background:#dde3e8;border:0.8px solid #f9fafc"></div>
<div class="a t" style="left:747.84px;top:316.13px;font-size:10px;line-height:14px;color:#4d5d78;font-weight:normal;transform:scaleX(0.9055);">374 (+169)</div>
<div class="a" style="left:766.20px;top:333.50px;width:7.6px;height:7.6px;border-radius:50%;background:#4cc63b;border:0.8px solid #f9fafc"></div>
<div class="a t" style="left:752.32px;top:411.41px;font-size:9.5px;line-height:13px;color:#56668a;font-weight:normal;transform:scaleX(0.9100);-webkit-text-stroke:0.08px #56668a;">Braventa</div>
<div class="a" style="left:825.40px;top:340.00px;width:4.60px;height:23.00px;background:#dde3e8;"></div>
<div class="a" style="left:824.10px;top:359.40px;width:7.2px;height:7.2px;border-radius:50%;background:#dde3e8;border:0.8px solid #f9fafc"></div>
<div class="a t" style="left:805.63px;top:319.13px;font-size:10px;line-height:14px;color:#4d5d78;font-weight:normal;transform:scaleX(0.9139);">356 (+150)</div>
<div class="a" style="left:823.90px;top:336.20px;width:7.6px;height:7.6px;border-radius:50%;background:#4cc63b;border:0.8px solid #f9fafc"></div>
<div class="a t" style="left:816.20px;top:411.41px;font-size:9.5px;line-height:13px;color:#56668a;font-weight:normal;transform:scaleX(0.9100);-webkit-text-stroke:0.08px #56668a;">Nerilo</div>
<div class="a" style="left:883.30px;top:349.75px;width:4.60px;height:29.95px;background:#dde3e8;"></div>
<div class="a" style="left:882.00px;top:376.10px;width:7.2px;height:7.2px;border-radius:50%;background:#dde3e8;border:0.8px solid #f9fafc"></div>
<div class="a t" style="left:863.34px;top:328.63px;font-size:10px;line-height:14px;color:#4d5d78;font-weight:normal;transform:scaleX(0.9137);">292 (+195)</div>
<div class="a" style="left:881.80px;top:345.95px;width:7.6px;height:7.6px;border-radius:50%;background:#4cc63b;border:0.8px solid #f9fafc"></div>
<div class="a t" style="left:873.80px;top:411.41px;font-size:9.5px;line-height:13px;color:#56668a;font-weight:normal;transform:scaleX(0.9100);-webkit-text-stroke:0.08px #56668a;">Voltari</div>
<div class="a" style="left:940.70px;top:350.10px;width:4.60px;height:13.90px;background:#dde3e8;"></div>
<div class="a" style="left:939.40px;top:360.40px;width:7.2px;height:7.2px;border-radius:50%;background:#dde3e8;border:0.8px solid #f9fafc"></div>
<div class="a t" style="left:922.83px;top:328.63px;font-size:10px;line-height:14px;color:#4d5d78;font-weight:normal;transform:scaleX(0.9452);">290 (+90)</div>
<div class="a" style="left:939.20px;top:346.30px;width:7.6px;height:7.6px;border-radius:50%;background:#4cc63b;border:0.8px solid #f9fafc"></div>
<div class="a t" style="left:928.78px;top:411.41px;font-size:9.5px;line-height:13px;color:#56668a;font-weight:normal;transform:scaleX(0.9100);-webkit-text-stroke:0.08px #56668a;">Aurexis</div>
<div class="a t" style="left:1062.00px;top:261.79px;font-size:11px;line-height:15px;color:#a0b6cb;font-weight:normal;transform:scaleX(1.0318);-webkit-text-stroke:0.35px #a0b6cb;">Additional KPIs</div>
<div class="a t" style="left:1081.59px;top:301.09px;font-size:13.3px;line-height:19px;color:#1f2f8f;font-weight:bold;transform:scaleX(1.0258);">5,534</div>
<div class="a t" style="left:1045.59px;top:320.75px;font-size:8.5px;line-height:12px;color:#9fb0c2;font-weight:normal;transform:scaleX(0.9900);">What has been invoiced each</div>
<div class="a t" style="left:1093.56px;top:332.45px;font-size:8.5px;line-height:12px;color:#9fb0c2;font-weight:normal;transform:scaleX(0.9900);">day</div>
<div class="a t" style="left:1082.82px;top:374.29px;font-size:13.3px;line-height:19px;color:#1f2f8f;font-weight:bold;transform:scaleX(0.9796);">1,590</div>
<div class="a t" style="left:1045.34px;top:394.85px;font-size:8.5px;line-height:12px;color:#9fb0c2;font-weight:normal;transform:scaleX(0.9900);">What must be invoiced during</div>
<div class="a t" style="left:1051.86px;top:406.55px;font-size:8.5px;line-height:12px;color:#9fb0c2;font-weight:normal;transform:scaleX(0.9900);">the remaining workdays in</div>
<div class="a t" style="left:1055.23px;top:418.25px;font-size:8.5px;line-height:12px;color:#9fb0c2;font-weight:normal;transform:scaleX(0.9900);">order to reach the target</div>
<div class="a t" style="left:1082.00px;top:453.89px;font-size:13.3px;line-height:19px;color:#1f2f8f;font-weight:bold;transform:scaleX(1.0137);">9,094</div>
<div class="a t" style="left:1056.83px;top:474.15px;font-size:8.5px;line-height:12px;color:#9fb0c2;font-weight:normal;transform:scaleX(0.9900);">What has been ordered</div>
<div class="a t" style="left:1043.03px;top:485.85px;font-size:8.5px;line-height:12px;color:#9fb0c2;font-weight:normal;transform:scaleX(0.9900);">yesterday that has a requested</div>
<div class="a t" style="left:1051.74px;top:497.55px;font-size:8.5px;line-height:12px;color:#9fb0c2;font-weight:normal;transform:scaleX(0.9900);">delivery date in this month</div>
<div class="a t" style="left:1082.96px;top:532.89px;font-size:13.3px;line-height:19px;color:#1f2f8f;font-weight:bold;transform:scaleX(1.0178);">4,389</div>
<div class="a t" style="left:1056.83px;top:553.05px;font-size:8.5px;line-height:12px;color:#9fb0c2;font-weight:normal;transform:scaleX(0.9900);">What has been ordered</div>
<div class="a t" style="left:1043.03px;top:564.75px;font-size:8.5px;line-height:12px;color:#9fb0c2;font-weight:normal;transform:scaleX(0.9900);">yesterday that has a requested</div>
<div class="a t" style="left:1045.30px;top:576.45px;font-size:8.5px;line-height:12px;color:#9fb0c2;font-weight:normal;transform:scaleX(0.9900);">delivery date in future months</div>
<div class="a t" style="left:1072.70px;top:599.75px;font-size:8.5px;line-height:12px;color:#cdd7e0;font-weight:normal;transform:scaleX(1.0303);">New orders</div>
<svg class="a" style="left:1123.50px;top:601.40px" width="9" height="9" viewBox="0 0 9 9"><path d="M4 0.6 H0.6 V8.4 H8.4 V5" fill="none" stroke="#cdd7e0" stroke-width="1"/><path d="M4 5 L8.4 0.6 M5.2 0.6 H8.4 V3.8" fill="none" stroke="#cdd7e0" stroke-width="1"/></svg>
</body></html>
